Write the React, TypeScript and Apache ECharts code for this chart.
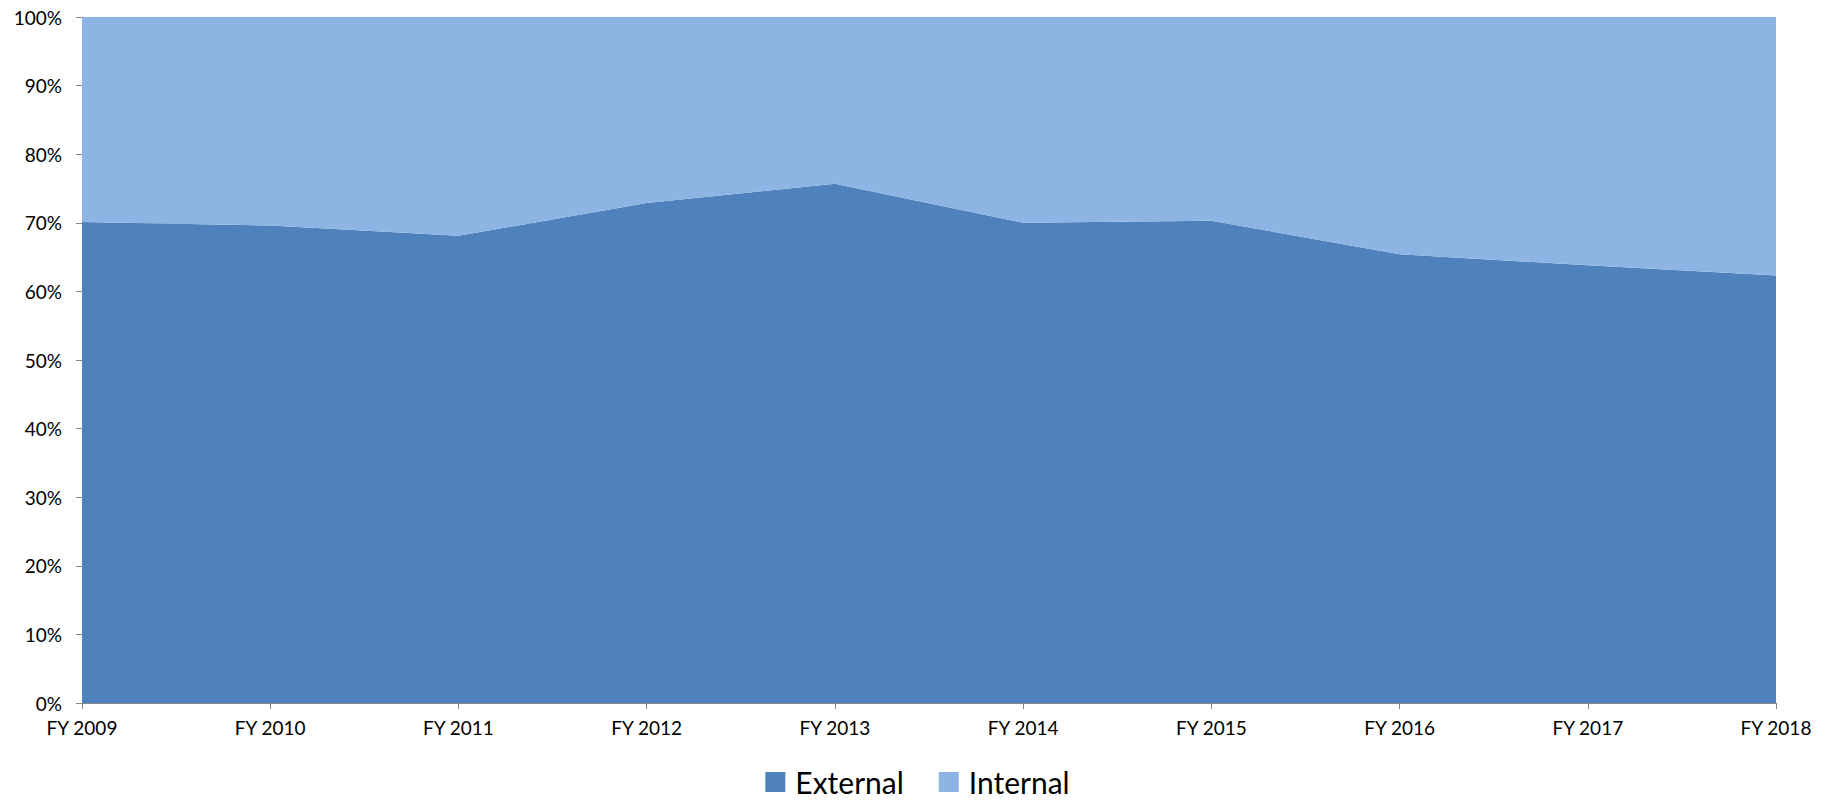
import React, { useEffect, useRef } from "react";
import * as echarts from "echarts";

// Fiscal years along the x axis
const years = [
  "FY 2009", "FY 2010", "FY 2011", "FY 2012", "FY 2013",
  "FY 2014", "FY 2015", "FY 2016", "FY 2017", "FY 2018",
];

// Share of the total, in percent
const externalShare = [70.1, 69.6, 68.1, 72.9, 75.7, 70.0, 70.3, 65.4, 63.8, 62.3];
const internalShare = [29.9, 30.4, 31.9, 27.1, 24.3, 30.0, 29.7, 34.6, 36.2, 37.7];

const seriesNames = ["External", "Internal"];
const seriesColors = ["#4F81BD", "#8EB4E3"];

const FONT = "Lato, 'Open Sans', sans-serif";
const AXIS_GRAY = "#868686";

export default function App() {
  const ref = useRef<HTMLDivElement>(null);

  useEffect(() => {
    if (!ref.current) return;
    const chart = echarts.init(ref.current, undefined, { renderer: "svg" });

    const data = [externalShare, internalShare];

    chart.setOption({
      animation: false,
      backgroundColor: "#ffffff",
      grid: { left: 82, right: 59, top: 17, bottom: 99, containLabel: false },
      legend: {
        top: 767,
        left: "center",
        padding: 0,
        itemWidth: 20,
        itemHeight: 20,
        itemGap: 35,
        icon: "rect",
        textStyle: {
          fontFamily: FONT,
          fontSize: 30,
          lineHeight: 30,
          color: "#000000",
          padding: [0, 0, 0, 5],
        },
        data: seriesNames,
      },
      xAxis: {
        type: "category",
        data: years,
        boundaryGap: false,
        axisLine: { show: true, lineStyle: { color: AXIS_GRAY, width: 1 } },
        axisTick: { show: true, alignWithLabel: true, length: 6, lineStyle: { color: AXIS_GRAY } },
        axisLabel: {
          margin: 15,
          fontFamily: FONT,
          fontSize: 19,
          color: "#000000",
        },
        splitLine: { show: false },
      },
      yAxis: {
        type: "value",
        min: 0,
        max: 100,
        interval: 10,
        axisLine: { show: true, lineStyle: { color: AXIS_GRAY, width: 1 } },
        axisTick: { show: true, length: 6, lineStyle: { color: AXIS_GRAY } },
        axisLabel: {
          margin: 20,
          fontFamily: FONT,
          fontSize: 19,
          color: "#000000",
          formatter: (v: number) => `${v}%`,
        },
        splitLine: { show: true, lineStyle: { color: "#BFBFBF", width: 1 } },
      },
      series: seriesNames.map((name, i) => ({
        name,
        type: "line",
        stack: "share",
        data: data[i],
        symbol: "none",
        lineStyle: { width: 0 },
        itemStyle: { color: seriesColors[i] },
        areaStyle: { color: seriesColors[i], opacity: 1 },
      })),
    });

    return () => chart.dispose();
  }, []);

  return (
    <div
      ref={ref}
      style={{ position: "absolute", left: 0, top: 0, width: 1835, height: 802 }}
    />
  );
}
